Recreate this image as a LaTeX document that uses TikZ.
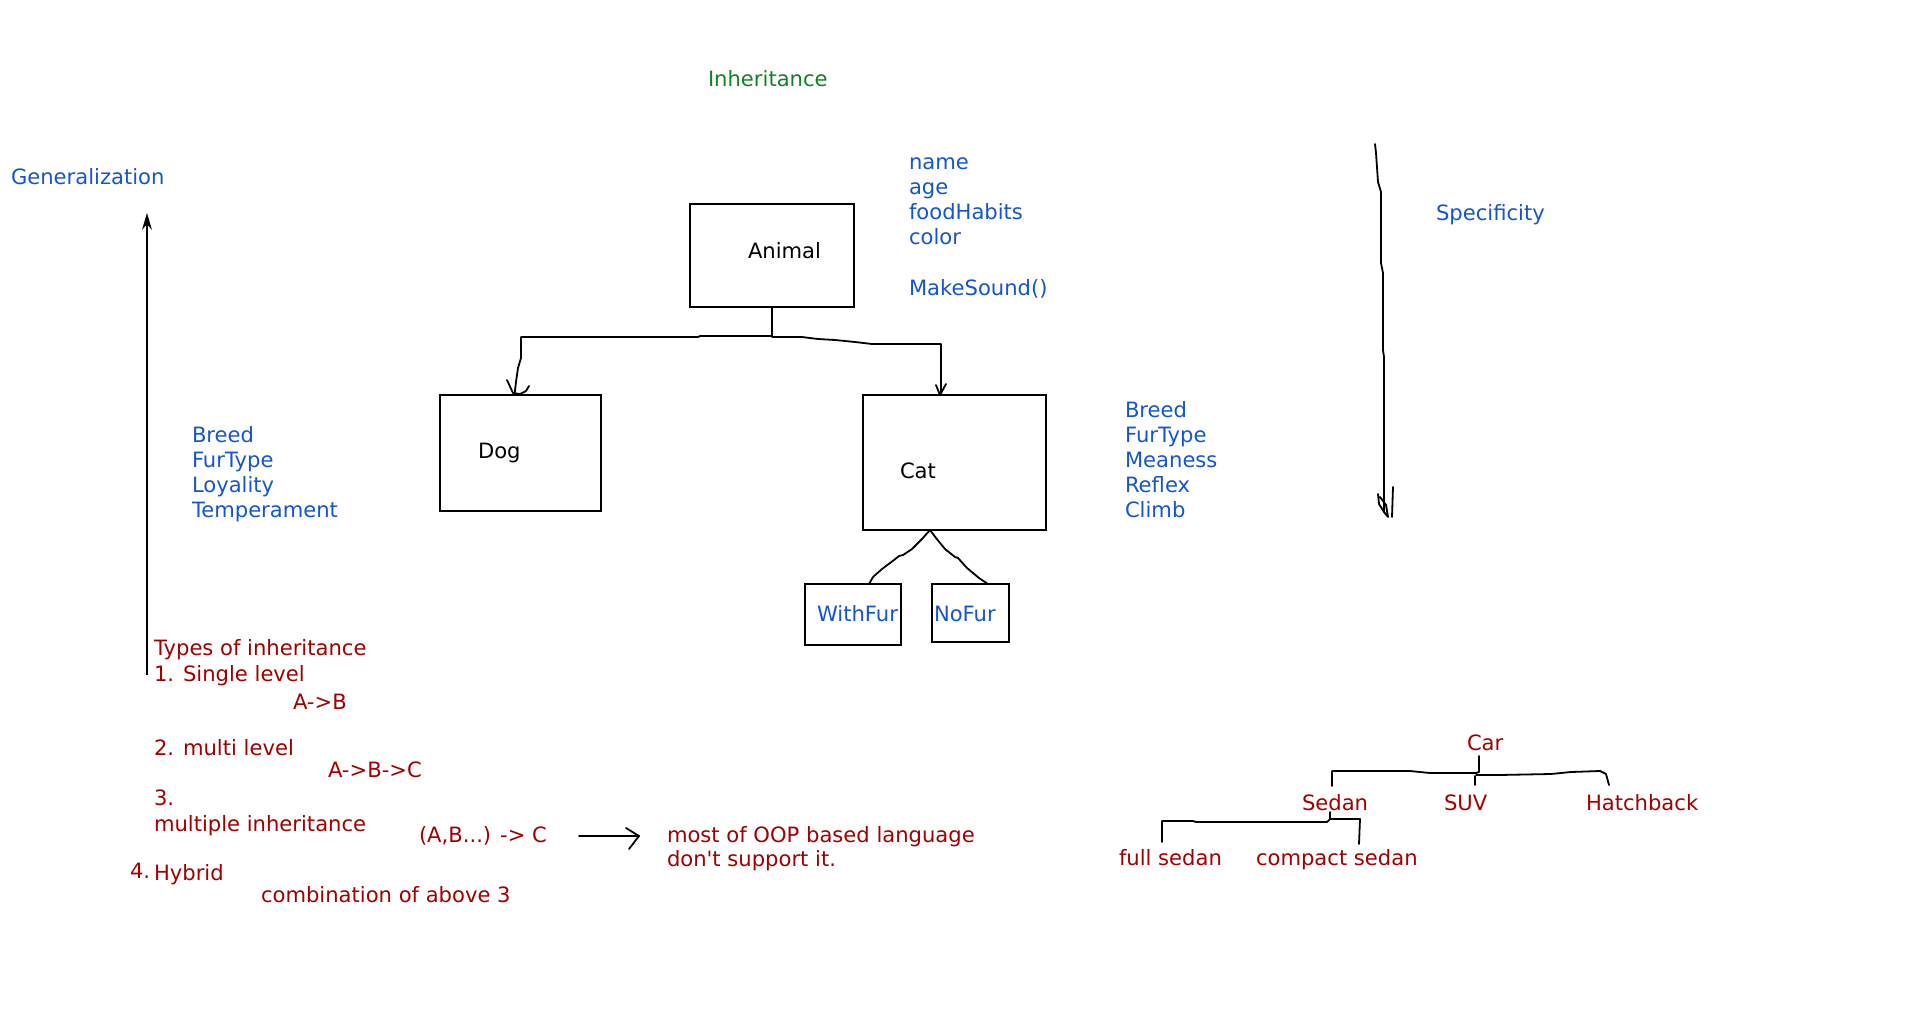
\documentclass[tikz,border=0pt]{standalone}
\usepackage{fontspec}
\setmainfont{DejaVu Sans}[Ligatures=TeXOff]
\usetikzlibrary{arrows.meta}
\definecolor{tblue}{RGB}{21,86,207}
\definecolor{tred}{RGB}{160,0,0}
\definecolor{tgreen}{RGB}{20,128,40}
\newcommand\fsz{\fontsize{21.1}{25}\selectfont}
\tikzset{
 txt/.style={anchor=base west, inner sep=0pt, outer sep=0pt, font=\fsz},
 bt/.style={txt, text=tblue},
 rt/.style={txt, text=tred},
 kt/.style={txt, text=black},
 gt/.style={txt, text=tgreen},
 box/.style={draw, line width=1.8pt, inner sep=0pt, outer sep=0pt},
 hand/.style={line width=1.8pt, line join=round, line cap=round},
}
\begin{document}
\begin{tikzpicture}[x=1pt,y=-1pt]
\useasboundingbox[fill=white] (0,0) rectangle (1920,1017);

% titles
\node[gt] (inh) at (708,86) {Inheritance};
\node[bt] (gen) at (11,184) {Generalization};
\node[bt] (spec) at (1436,220) {Specificity};

% animal attributes
\node[bt] (an1) at (909,169.5) {name};
\node[bt] (an2) at (909,194.5) {age};
\node[bt] (an3) at (909,219.5) {foodHabits};
\node[bt] (an4) at (909,244.5) {color};
\node[bt] (an5) at (909,295) {MakeSound()};

% boxes
\node[box, minimum width=164pt, minimum height=103pt] (animal) at (772,255.5) {};
\node[box, minimum width=161pt, minimum height=116pt] (dog) at (520.5,453) {};
\node[box, minimum width=183pt, minimum height=135pt] (cat) at (954.5,462.5) {};
\node[box, minimum width=96pt, minimum height=61pt] (withfur) at (853,614.5) {};
\node[box, minimum width=77pt, minimum height=58pt] (nofur) at (970.5,613) {};

\node[kt] (animalt) at (748,258) {Animal};
\node[kt] (dogt) at (478,458) {Dog};
\node[kt] (catt) at (900,478) {Cat};
\node[bt] (wft) at (817,621) {WithFur};
\node[bt] (nft) at (934,621) {NoFur};

% dog attributes
\node[bt] (d1) at (192,442) {Breed};
\node[bt] (d2) at (192,467) {FurType};
\node[bt] (d3) at (192,492) {Loyality};
\node[bt] (d4) at (192,517) {Temperament};

% cat attributes
\node[bt] (c1) at (1125,417) {Breed};
\node[bt] (c2) at (1125,442) {FurType};
\node[bt] (c3) at (1125,467) {Meaness};
\node[bt] (c4) at (1125,492) {Reflex};
\node[bt] (c5) at (1125,517) {Climb};

% types of inheritance
\node[rt] (t0) at (154,655) {Types of inheritance};
\node[rt] (t1) at (154,681) {1. Single level};
\node[rt] (t1a) at (293,709) {A->B};
\node[rt] (t2) at (154,755) {2. multi level};
\node[rt] (t2a) at (328,777) {A->B->C};
\node[rt] (t3) at (154,805) {3.};
\node[rt] (t3b) at (154,831) {multiple inheritance};
\node[rt] (t3a) at (419,842) {(A,B...) -> C};
\node[rt] (t3c) at (667,842) {most of OOP based language};
\node[rt] (t3d) at (667,866) {don't support it.};
\node[rt] (t4n) at (130,878) {4.};
\node[rt] (t4) at (154,880) {Hybrid};
\node[rt] (t4a) at (261,902) {combination of above 3};

% car tree
\node[rt] (car) at (1467,750) {Car};
\node[rt] (sedan) at (1302,810) {Sedan};
\node[rt] (suv) at (1444,810) {SUV};
\node[rt] (hatch) at (1586,810) {Hatchback};
\node[rt] (full) at (1119,865) {full sedan};
\node[rt] (compact) at (1256,865) {compact sedan};

% generalization arrow
\coordinate (gbot) at (147,675);
\coordinate (gtop) at (147,213);
\draw[line width=1.5pt, -{Stealth[length=17pt,width=10pt,inset=6pt]}] (gbot) -- (gtop);

% specificity line
\coordinate (stop) at (1375,144);
\coordinate (sbot) at (1384,512);
\draw[hand] (stop) -- (1376,153) -- (1378,182) -- (1381,192) -- (1381,263) -- (1383,273) -- (1383,350) -- (1384,357) -- (sbot);
\draw[hand] (1378,494) -- (1379,504) -- (1384,512) -- (1388,517) -- (1386,505) -- (1380,497);
\draw[hand] (1393,487) -- (1392,517);

% animal -> dog
\draw[hand] (animal.south) -- (772,336) -- (700,336) -- (698,337) -- (521,337) -- (521,358) -- (518,368) -- (516,382) -- ([xshift=-6pt]dog.north);
\draw[hand] (507,380) -- (513,393) -- (520,394) -- (526,391) -- (529,386);
% animal -> cat
\draw[hand] (animal.south) -- (772,337) -- (802,337) -- (818,339) -- (835,340) -- (855,342) -- (872,344) -- (941,344) -- ([xshift=-13.5pt]cat.north);
\draw[hand] (936,385) -- (940,395) -- (946,384);

% cat -> withfur / nofur
\draw[hand] ([xshift=-24.5pt]cat.south) -- (922,539) -- (912,549) -- (903,555) -- (899,556) -- (894,560) -- (882,569) -- (873,577) -- ([xshift=16pt]withfur.north);
\draw[hand] ([xshift=-24.5pt]cat.south) -- (936,538) -- (945,549) -- (955,557) -- (958,558) -- (967,568) -- (979,578) -- ([xshift=17.5pt]nofur.north);

% multiple inheritance arrow
\coordinate (arrs) at (579,836);
\coordinate (arre) at (639,836);
\draw[hand] (arrs) -- (arre);
\draw[hand] (626,828) -- (arre) -- (629,849);

% car tree connectors
\coordinate (cart) at (1479,756);
\coordinate (sedant) at (1332,786);
\coordinate (suvt) at (1475,785);
\coordinate (hatcht) at (1609,785);
\coordinate (sedanb) at (1330,812);
\coordinate (fullt) at (1162,842);
\coordinate (compt) at (1359,844);
\draw[hand] (cart) -- (1479,772) -- (1476,773) -- (1430,773) -- (1410,771) -- (1332,771) -- (sedant);
\draw[hand] (1476,775) -- (1499,775) -- (1551,774) -- (1571,772) -- (1600,771) -- (1606,774) -- (hatcht);
\draw[hand] (1475,776) -- (suvt);
\draw[hand] (sedanb) -- (1330,819) -- (1327,822) -- (1196,822) -- (1193,821) -- (1162,821) -- (fullt);
\draw[hand] (1330,819) -- (1360,819) -- (compt);
\end{tikzpicture}
\end{document}
